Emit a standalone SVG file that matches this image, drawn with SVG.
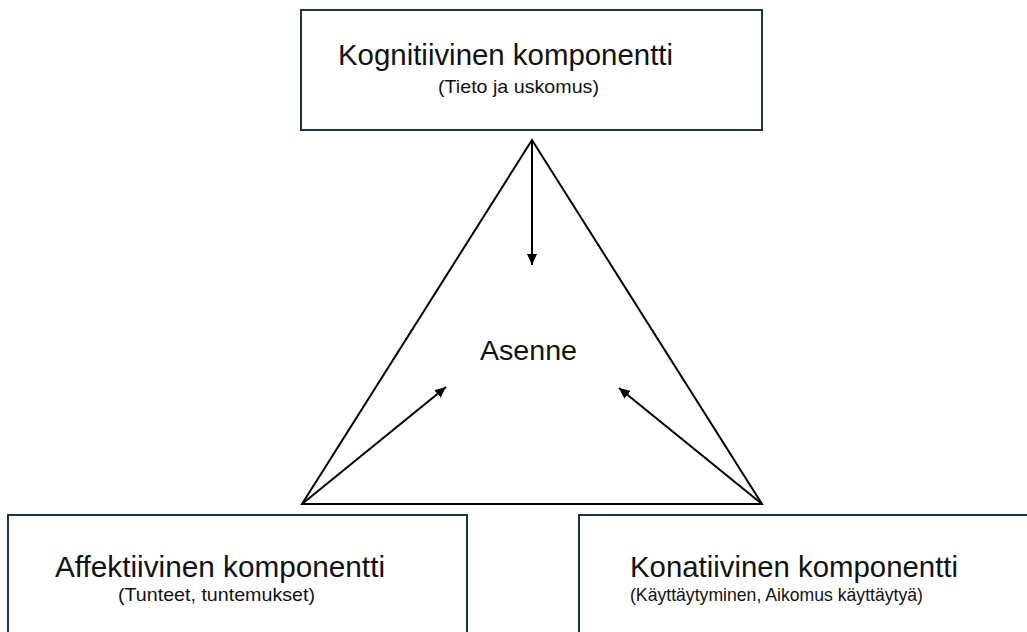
<svg xmlns="http://www.w3.org/2000/svg" width="1027" height="632" viewBox="0 0 1027 632">
  <style>
    .box { fill: #ffffff; stroke: #1c3144; stroke-width: 2; }
    .title { font-family: "Liberation Sans", Arial, sans-serif; font-size: 29px; fill: #111111; }
    .sub { font-family: "Liberation Sans", Arial, sans-serif; font-size: 19px; fill: #111111; }
    .edge { stroke: #000000; stroke-width: 2; fill: none; }
  </style>
  <defs>
    <marker id="arrow" markerUnits="userSpaceOnUse" markerWidth="12" markerHeight="10" refX="11" refY="5" orient="auto">
      <path d="M0,0 L11,5 L0,10 z" fill="#000000"/>
    </marker>
  </defs>
  <rect width="1027" height="632" fill="#ffffff"/>

  <g id="triangle">
    <polygon points="532,140 302,504 762,504" fill="none" stroke="#000000" stroke-width="2" stroke-linejoin="miter"/>
  </g>

  <g id="connectors">
    <line class="edge" x1="532" y1="140" x2="532" y2="265" marker-end="url(#arrow)"/>
    <line class="edge" x1="302" y1="504" x2="446" y2="387" marker-end="url(#arrow)"/>
    <line class="edge" x1="762" y1="504" x2="619" y2="388" marker-end="url(#arrow)"/>
  </g>

  <g id="kognitiivinen">
    <rect class="box" x="301" y="10" width="461" height="120"/>
    <text class="title" x="338" y="65" textLength="335" lengthAdjust="spacingAndGlyphs">Kognitiivinen komponentti</text>
    <text class="sub" x="438" y="93" textLength="161" lengthAdjust="spacingAndGlyphs">(Tieto ja uskomus)</text>
  </g>

  <g id="asenne">
    <text class="title" x="480" y="360" font-size="27" textLength="97" lengthAdjust="spacingAndGlyphs" style="font-size:27px">Asenne</text>
  </g>

  <g id="affektiivinen">
    <rect class="box" x="8" y="515" width="459" height="130"/>
    <text class="title" x="55" y="577" textLength="330" lengthAdjust="spacingAndGlyphs">Affektiivinen komponentti</text>
    <text class="sub" x="118" y="601" textLength="197" lengthAdjust="spacingAndGlyphs">(Tunteet, tuntemukset)</text>
  </g>

  <g id="konatiivinen">
    <rect class="box" x="579" y="515" width="460" height="130"/>
    <text class="title" x="630" y="577" textLength="328" lengthAdjust="spacingAndGlyphs">Konatiivinen komponentti</text>
    <text class="sub" x="630" y="601" textLength="293" lengthAdjust="spacingAndGlyphs">(Käyttäytyminen, Aikomus käyttäytyä)</text>
  </g>
</svg>
